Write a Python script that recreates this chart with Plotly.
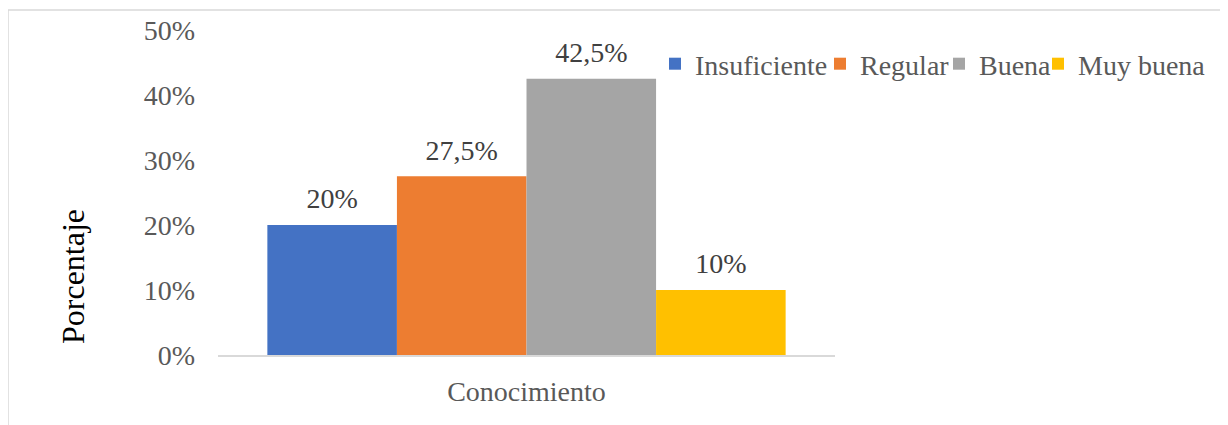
import plotly.graph_objects as go

categories = ["Conocimiento"]
series_names = ["Insuficiente", "Regular", "Buena", "Muy buena"]
series_values = [20, 27.5, 42.5, 10]
series_colors = ["#4472C4", "#ED7D31", "#A5A5A5", "#FFC000"]
y_ticks = [0, 10, 20, 30, 40, 50]
legend_x_page = [655, 820, 939, 1038]  # left edge of each legend entry (page px)

FONT = "Liberation Serif"
OFF = 8  # page body margin offset
W, H = 1228 - OFF, 425 - OFF
L, R, T, B = 218 - OFF, 393, 30 - OFF, 70

def fmt(v):
    s = ("%g" % v).replace(".", ",")
    return s + "%"

fig = go.Figure()
legend_ids = ["legend", "legend2", "legend3", "legend4"]
for i, (name, val, col, lg) in enumerate(zip(series_names, series_values, series_colors, legend_ids)):
    fig.add_trace(go.Bar(
        name=name, x=categories, y=[val],
        marker=dict(color=col, line=dict(width=0)),
        offsetgroup=str(i), legend=lg,
    ))
for i, val in enumerate(series_values):
    fig.add_trace(go.Scatter(
        x=categories, y=[val], mode="markers+text", offsetgroup=str(i),
        marker=dict(size=14, opacity=0), text=[fmt(val)],
        textposition="top center",
        textfont=dict(family=FONT, size=28, color="#404040"),
        showlegend=False, hoverinfo="skip", cliponaxis=False,
    ))

legends = {}
for lg, xp in zip(legend_ids, legend_x_page):
    legends[lg] = dict(
        orientation="h", xref="container", yref="container",
        x=(xp - OFF) / W, xanchor="left", y=(H - (64 - OFF)) / H, yanchor="middle",
        font=dict(family=FONT, size=28, color="#595959"),
        bgcolor="rgba(0,0,0,0)", itemwidth=30,
    )

pw = W - L - R
ph = H - T - B
fig.update_layout(
    width=W, height=H,
    margin=dict(l=L, r=R, t=T, b=B, autoexpand=False),
    paper_bgcolor="white", plot_bgcolor="white",
    barmode="group", bargap=0.16, bargroupgap=0,
    scattermode="group", scattergap=0.16,
    font=dict(family=FONT, color="#595959"),
    showlegend=True,
    **legends,
    xaxis=dict(
        showgrid=False, showline=True, linecolor="#d9d9d9", linewidth=1.5,
        ticks="", tickfont=dict(family=FONT, size=28, color="#595959"),
        ticklabelstandoff=11, zeroline=False,
    ),
    yaxis=dict(
        range=[0, 50], tickvals=y_ticks, ticktext=[f"{v}%" for v in y_ticks],
        showgrid=False, showline=False, zeroline=False, ticks="",
        tickfont=dict(family=FONT, size=28, color="#595959"),
        ticklabelstandoff=22,
    ),
    annotations=[dict(
        text="Porcentaje", textangle=-90, showarrow=False,
        xref="paper", yref="paper",
        x=(73 - 218) / pw, y=(355 - 277) / ph, xanchor="center", yanchor="middle",
        font=dict(family=FONT, size=32, color="#000000"),
    )],
    shapes=[dict(
        type="rect", xref="paper", yref="paper",
        x0=(8 - 218) / pw, x1=(1240 - 218) / pw,
        y0=(355 - 440) / ph, y1=(355 - 10) / ph,
        line=dict(color="#d9d9d9", width=1.5), fillcolor="rgba(0,0,0,0)",
        layer="below",
    )],
)

fig.write_html("out.html")
